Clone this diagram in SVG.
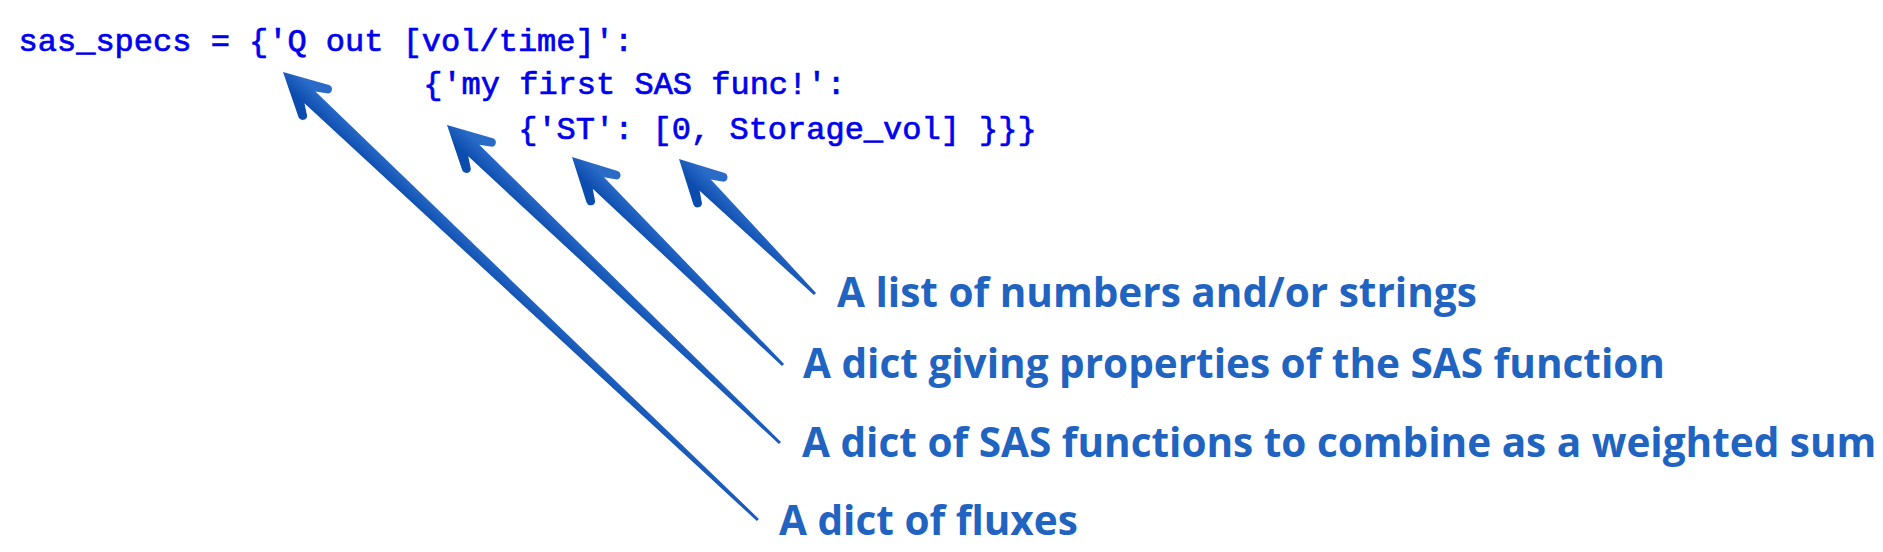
<svg xmlns="http://www.w3.org/2000/svg" width="1883" height="552" viewBox="0 0 1883 552">
<defs>
<linearGradient id="ag" gradientUnits="userSpaceOnUse" x1="0" y1="-9" x2="0" y2="9">
<stop offset="0" stop-color="#0b4cae"/>
<stop offset="1" stop-color="#2a6bc8"/>
</linearGradient>
<style>
.code{font-family:"Liberation Mono","Courier New",monospace;font-size:32px;fill:#0000ee;stroke:#0000ee;stroke-width:0.7px;white-space:pre}
.lbl{font-family:"Open Sans","Liberation Sans",sans-serif;font-size:40.5px;font-weight:bold;fill:#2163c0}
.arrow{fill:url(#ag)}
</style>
</defs>
<rect width="1883" height="552" fill="#ffffff"/>
<g id="code">
<text class="code" x="18.6" y="50.7">sas_specs = {'Q out [vol/time]':</text>
<text class="code" x="423.2" y="94">{'my first SAS func!':</text>
<text class="code" x="518.2" y="139">{'ST': [0, Storage_vol] }}}</text>
</g>
<g id="label-fluxes"><text class="lbl" x="779" y="535">A dict of fluxes</text></g>
<g id="label-sas-functions"><text class="lbl" x="802" y="457">A dict of SAS functions to combine as a weighted sum</text></g>
<g id="label-properties"><text class="lbl" x="803" y="378">A dict giving properties of the SAS function</text></g>
<g id="label-list"><text class="lbl" x="837" y="307">A list of numbers and/or strings</text></g>
<g id="connectors">
<path class="arrow" transform="translate(283 72) rotate(223.33)" d="M0 0 L-42.3 -22.2 A4.5 4.5 0 0 0 -47.7 -15.4 L-37 -8 L-652.9 -1.5 L-652.9 1.5 L-37 8 L-47.7 15.4 A4.5 4.5 0 0 0 -42.3 22.2 Z"/>
<path class="arrow" transform="translate(447 125) rotate(223.68)" d="M0 0 L-42.3 -22.2 A4.5 4.5 0 0 0 -47.7 -15.4 L-37 -8 L-460.4 -1.5 L-460.4 1.5 L-37 8 L-47.7 15.4 A4.5 4.5 0 0 0 -42.3 22.2 Z"/>
<path class="arrow" transform="translate(572 157) rotate(224.59)" d="M0 0 L-42.3 -22.2 A4.5 4.5 0 0 0 -47.7 -15.4 L-37 -8 L-296.3 -1.5 L-296.3 1.5 L-37 8 L-47.7 15.4 A4.5 4.5 0 0 0 -42.3 22.2 Z"/>
<path class="arrow" transform="translate(679 159) rotate(224.79)" d="M0 0 L-42.3 -22.2 A4.5 4.5 0 0 0 -47.7 -15.4 L-37 -8 L-191.6 -1.5 L-191.6 1.5 L-37 8 L-47.7 15.4 A4.5 4.5 0 0 0 -42.3 22.2 Z"/>
</g>
</svg>
